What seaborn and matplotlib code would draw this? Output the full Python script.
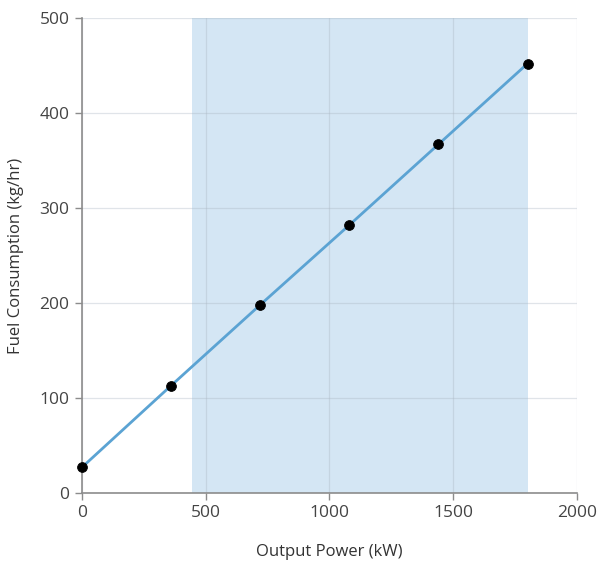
import pandas as pd
import seaborn as sns
import matplotlib.pyplot as plt

# Values
output_power = [0, 360, 720, 1080, 1440, 1800]
fuel_consumption = [27, 113, 198, 282, 367, 452]
band_start = 445
band_end = 1800

df = pd.DataFrame({"Output Power (kW)": output_power,
                   "Fuel Consumption (kg/hr)": fuel_consumption})

sns.set_theme(style="whitegrid")
plt.rcParams['font.family'] = ['Open Sans', 'DejaVu Sans']

fig = plt.figure(figsize=(5.98, 5.62), dpi=100)
ax = fig.add_axes([0.137, 0.1228, 0.828, 0.8452])

# Operating band
ax.axvspan(band_start, band_end, color="#d4e6f4", lw=0, zorder=0.4)

sns.lineplot(data=df, x="Output Power (kW)", y="Fuel Consumption (kg/hr)",
             color="#5ba3d3", linewidth=2, ax=ax, zorder=2)
sns.scatterplot(data=df, x="Output Power (kW)", y="Fuel Consumption (kg/hr)",
                color="black", s=50, edgecolor="black", ax=ax, zorder=3, clip_on=False)

ax.set_xlim(0, 2000)
ax.set_ylim(0, 500)
ax.set_xticks([0, 500, 1000, 1500, 2000])
ax.set_yticks([0, 100, 200, 300, 400, 500])

ax.grid(True, color="#a8b4c0", alpha=0.35, linewidth=0.9)
for side in ["top", "right"]:
    ax.spines[side].set_visible(False)
for side in ["left", "bottom"]:
    ax.spines[side].set_color("#8c8c8c")
    ax.spines[side].set_linewidth(1.2)

ax.tick_params(axis="both", which="major", length=5, width=1, color="#8c8c8c",
               labelsize=12.5, labelcolor="#444444", bottom=True, left=True, pad=4)
ax.set_xlabel("Output Power (kW)", fontsize=12, color="#333333", labelpad=16)
ax.set_ylabel("Fuel Consumption (kg/hr)", fontsize=12, color="#333333", labelpad=11)

fig.savefig("out.png", dpi=100)
